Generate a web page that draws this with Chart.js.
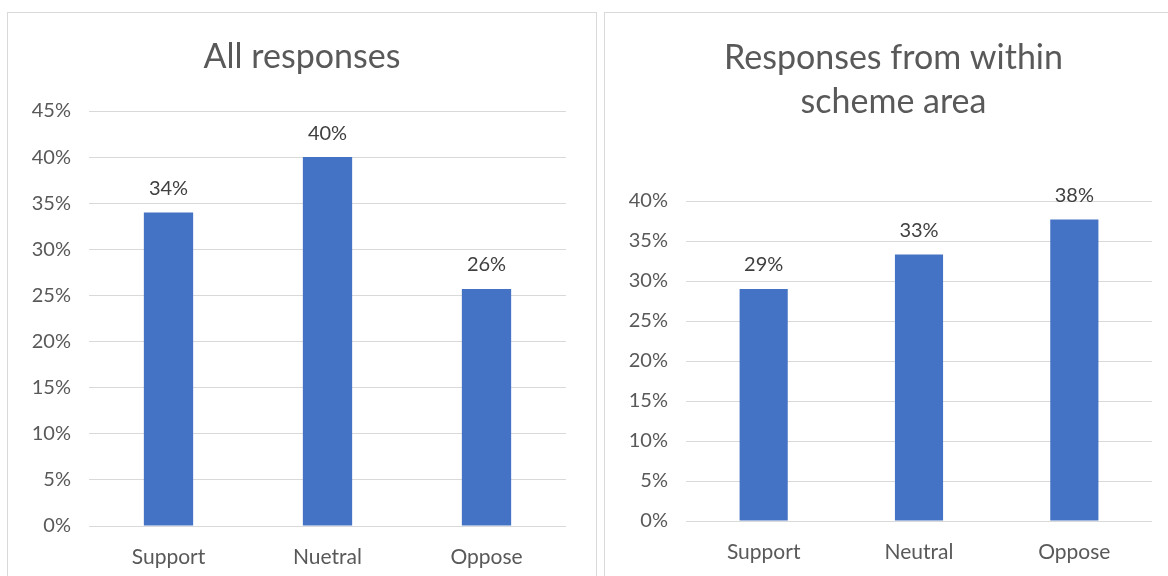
<!DOCTYPE html>
<html><head><meta charset="utf-8">
<script src="https://cdn.jsdelivr.net/npm/chart.js@4/dist/chart.umd.min.js"></script>
<style>
html,body{margin:0;padding:0;background:#fff;overflow:hidden;width:1168px;height:576px}
.box{position:absolute;top:12px;width:590px;height:600px;border:1.5px solid #d9d9d9;box-sizing:border-box;background:#fff}
.box canvas{position:absolute;left:0;top:0}
</style></head>
<body>
<div class="box" style="left:7px"><canvas id="c1" width="587" height="563"></canvas></div>
<div class="box" style="left:604px"><canvas id="c2" width="587" height="563"></canvas></div>
<script>
const categoriesAll = ['Support', 'Nuetral', 'Oppose'];
const valuesAll = [34.0, 40.0, 25.7];
const categoriesScheme = ['Support', 'Neutral', 'Oppose'];
const valuesScheme = [29.0, 33.3, 37.7];
const titleAll = 'All responses';
const titleScheme = ['Responses from within', 'scheme area'];

const FONT = 'Lato';
const dataLabels = {
  id: 'dataLabels',
  afterDatasetsDraw(chart) {
    const ctx = chart.ctx;
    ctx.save();
    ctx.font = '20px ' + FONT;
    ctx.fillStyle = '#404040';
    ctx.textAlign = 'center';
    ctx.textBaseline = 'middle';
    chart.getDatasetMeta(0).data.forEach((bar, i) => {
      const v = chart.data.datasets[0].data[i];
      ctx.fillText(Math.round(v) + '%', bar.x, bar.y - 24);
    });
    ctx.restore();
  }
};
const titleShift = {
  id: 'titleShift',
  afterLayout(chart, args, opts) {
    const t = chart.titleBlock;
    if (t) { t.left += opts.shift; t.right += opts.shift; }
  }
};

function make(id, cats, vals, title, yMax, tpad, xHeight, rightPad, shift) {
  return new Chart(document.getElementById(id), {
    type: 'bar',
    data: { labels: cats, datasets: [{ data: vals, backgroundColor: '#4472C4', categoryPercentage: 1, barPercentage: 0.31 }] },
    options: {
      responsive: false, animation: false,
      layout: { padding: { left: 0, right: rightPad, top: 0, bottom: 0 } },
      plugins: {
        legend: { display: false }, tooltip: { enabled: false },
        titleShift: { shift: shift },
        title: { display: true, text: title, color: '#595959', font: { family: FONT, size: 34, weight: 'normal', lineHeight: tpad.lh }, padding: { top: tpad.t, bottom: tpad.b } }
      },
      scales: {
        x: {
          grid: { display: false, drawTicks: false }, border: { display: false },
          ticks: { color: '#595959', font: { family: FONT, size: 21 }, padding: 19 },
          afterFit(s) { s.height = xHeight; }
        },
        y: {
          min: 0, max: yMax,
          grid: { color: '#d9d9d9', lineWidth: 1, drawTicks: false }, border: { display: false },
          ticks: { stepSize: 5, color: '#595959', font: { family: FONT, size: 20 }, padding: 18, callback: v => v + '%' },
          afterFit(s) { s.width = 81; }
        }
      }
    },
    plugins: [dataLabels, titleShift]
  });
}
make('c1', categoriesAll, valuesAll, titleAll, 45, { lh: 36/34, t: 26, b: 36 }, 50, 29, 15);
make('c2', categoriesScheme, valuesScheme, titleScheme, 40, { lh: 44/34, t: 23, b: 77 }, 55, 40, 15);
</script>
</body></html>
